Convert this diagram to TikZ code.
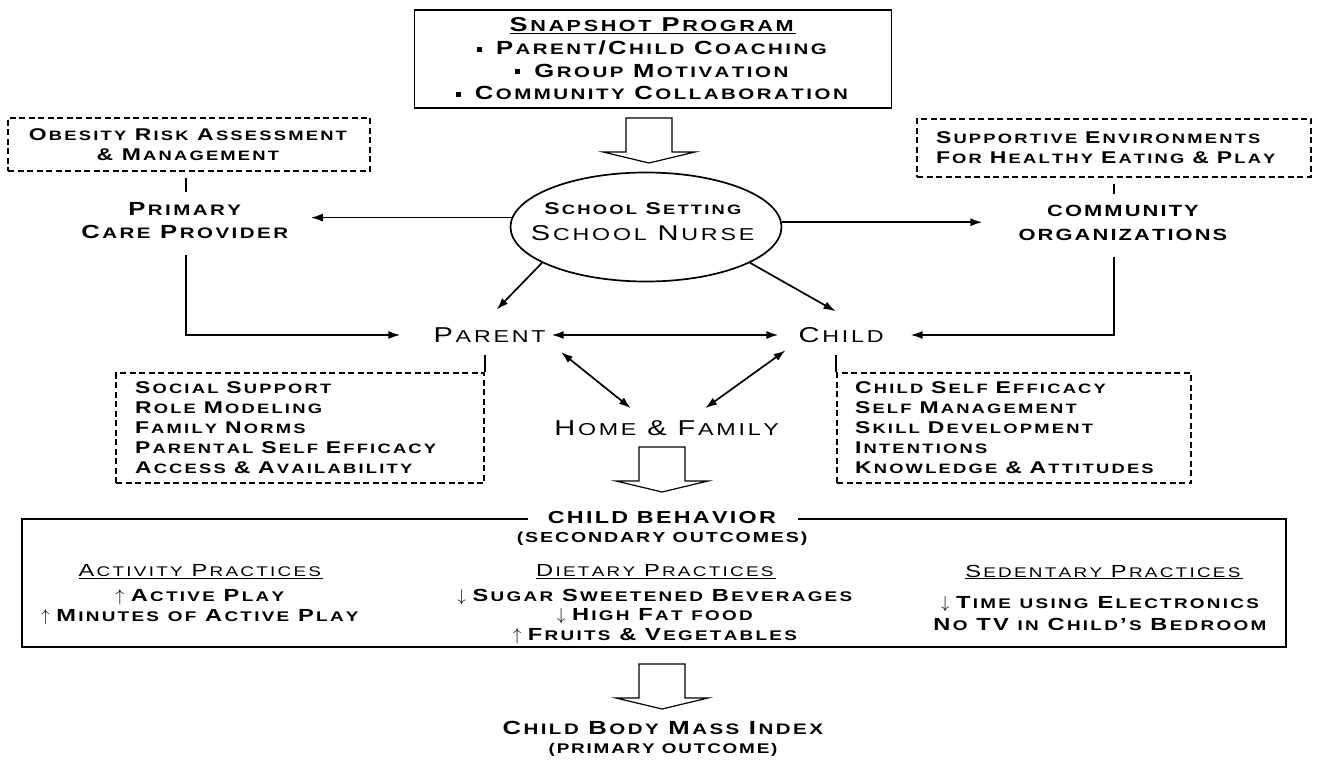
\documentclass[tikz,border=0pt]{standalone}
\usepackage{fontspec}
\setmainfont{Liberation Sans}[FakeStretch=1.35]
\usetikzlibrary{arrows.meta,shapes.geometric}

\newcommand\incr{$\uparrow$}
\newcommand\decr{$\downarrow$}
\newcommand\blt{\rule[3pt]{5pt}{5pt}}

% capitals stay large, small letters become smaller capitals
\makeatletter
\newcommand\fscsmall{\fontsize{\fpeval{0.8*\f@size}}{\f@baselineskip}\selectfont}
\makeatother
\ExplSyntaxOn
\cs_new_protected:Npn \fsc_char:n #1
  {
    \str_if_eq:eeTF { #1 } { \text_uppercase:n { #1 } }
      { #1 }
      { { \fscsmall \text_uppercase:n { #1 } } }
    \kern .13em \scan_stop:
  }
\NewDocumentCommand \fsc { m }
  {
    \seq_set_split:Nnn \l_tmpa_seq { ~ } { #1 }
    \seq_map_indexed_inline:Nn \l_tmpa_seq
      {
        \int_compare:nNnT { ##1 } > { 1 } { \c_space_tl }
        \tl_map_function:nN { ##2 } \fsc_char:n
      }
  }
\ExplSyntaxOff

\tikzset{
  lbl/.style={font=\fontsize{17}{20}\selectfont\bfseries, align=center, inner sep=2pt},
  big/.style={font=\fontsize{21.5}{24}\selectfont, inner ysep=12pt, inner xsep=3pt},
  colhead/.style={font=\fontsize{17.5}{20}\selectfont, inner sep=2pt},
  dashbox/.style={draw, line width=1.8pt, dash pattern=on 6pt off 3.5pt},
  link/.style={line width=1.7pt},
  arr/.style={link, -{Latex[length=12pt,width=8pt]}},
  dblarr/.style={link, {Latex[length=12pt,width=8pt]}-{Latex[length=12pt,width=8pt]}},
  fatarrow/.style={line width=1.2pt, line join=miter},
}

\begin{document}
\begin{tikzpicture}[x=1pt, y=-1pt]
  \useasboundingbox (0,0) rectangle (1319,762);

  % program and school
  \node[draw, link, lbl, font=\fontsize{19}{22.7}\selectfont\bfseries,
        minimum width=477pt, minimum height=98pt] (snap) at (653,59)
    {\underline{\fontsize{20}{22.7}\selectfont\fsc{Snapshot Program}}\\ \blt\ \ \fsc{Parent/Child Coaching}\\
     \blt\ \ \fsc{Group Motivation}\\ \blt\ \ \fsc{Community Collaboration}};
  \node[draw, ellipse, link, minimum width=271pt, minimum height=109pt] (nurse) at (646,227) {};
  \node[font=\fontsize{21.5}{26}\selectfont, align=center] (nursetxt) at (644,222)
    {{\fontsize{17}{18}\selectfont\bfseries\fsc{School Setting}}\\\fsc{School Nurse}};

  % providers
  \node[dashbox, lbl, minimum width=362pt, minimum height=53pt] (obes) at (189,144.5)
    {\fsc{Obesity Risk Assessment}\\\fsc{\& Management}};
  \node[dashbox, lbl, align=left, text width=356pt, inner xsep=19pt, minimum height=58pt] (supp) at (1114,148)
    {\fsc{Supportive Environments}\\\fsc{For Healthy Eating \& Play}};
  \node[lbl, font=\fontsize{19}{23}\selectfont\bfseries] (prim) at (186,221) {\fsc{Primary}\\\fsc{Care Provider}};
  \node[lbl, font=\fontsize{16.2}{23.5}\selectfont\bfseries] (comm) at (1124,223) {\fsc{COMMUNITY}\\\fsc{ORGANIZATIONS}};

  \node[big] (parent) at (491,335) {\fsc{Parent}};
  \node[big] (child) at (842.5,335) {\fsc{Child}};
  \node[big] (home) at (668,428) {\fsc{Home \& Family}};

  \node[dashbox, lbl, align=left, text width=330pt, inner xsep=19pt, minimum height=110pt] (pbox) at (300,428)
    {\fsc{Social Support}\\\fsc{Role Modeling}\\\fsc{Family Norms}\\\fsc{Parental Self Efficacy}\\\fsc{Access \& Availability}};
  \node[dashbox, lbl, align=left, text width=318pt, inner xsep=18pt, minimum height=110pt] (cbox) at (1014,428)
    {\fsc{Child Self Efficacy}\\\fsc{Self Management}\\\fsc{Skill Development}\\\fsc{Intentions}\\\fsc{Knowledge \& Attitudes}};

  % outcomes
  \node[draw, link, minimum width=1264pt, minimum height=128pt] (behav) at (654,583) {};
  \node[lbl, fill=white, inner xsep=20pt, font=\fontsize{17.3}{20}\selectfont\bfseries] (behavtitle) at (663,518) {\fsc{CHILD BEHAVIOR}};
  \node[lbl, font=\fontsize{14.5}{16}\selectfont\bfseries] (second) at (663,539) {\fsc{(SECONDARY OUTCOMES)}};

  \foreach \name/\x/\title in {act/201/Activity Practices, diet/656/Dietary Practices, sed/1104/Sedentary Practices}
    \node[colhead] (\name) at (\x,572) {\underline{\expandafter\fsc\expandafter{\title}}};
  \node[lbl, font=\fontsize{17.5}{20}\selectfont\bfseries] (actlist) at (201,607)
    {\incr\ \fsc{Active Play}\\\incr\ \fsc{Minutes of Active Play}};
  \node[lbl, font=\fontsize{17.5}{19.5}\selectfont\bfseries] (dietlist) at (656,616.5)
    {\decr\ \fsc{Sugar Sweetened Beverages}\\\decr\ \fsc{High Fat food}\\\incr\ \fsc{Fruits \& Vegetables}};
  \node[lbl, font=\fontsize{17.5}{22}\selectfont\bfseries] (sedlist) at (1101,614)
    {\decr\ \fsc{Time using Electronics}\\\fsc{No TV in Child’s Bedroom}};

  \node[lbl, font=\fontsize{19}{20}\selectfont\bfseries] (bmi) at (664,728) {\fsc{Child Body Mass Index}};
  \node[lbl, font=\fontsize{14}{16}\selectfont\bfseries] (primout) at (664,750) {\fsc{(PRIMARY OUTCOME)}};

  % hollow arrows
  \foreach \x/\y in {649/118, 662/447, 662/664}
    \draw[fatarrow] (\x-23,\y) -- (\x-23,\y+34) -- (\x-46,\y+34) -- (\x,\y+45)
                    -- (\x+46,\y+34) -- (\x+23,\y+34) -- (\x+23,\y) -- cycle;

  % connectors
  \draw[arr, shorten >=18pt] (nurse.176) -- (nurse.176 -| prim.east);
  \draw[arr, shorten >=34pt] (nurse.2) -- (nurse.2 -| comm.west);
  \draw[link, shorten <=6pt, shorten >=9pt] (obes.south -| prim.north) -- (prim.north);
  \draw[link, shorten <=6pt, shorten >=9pt] (supp.south) -- (supp.south |- comm.north);
  \draw[arr, shorten <=14pt, shorten >=30pt] (prim.south) |- (parent.west);
  \draw[arr, shorten <=14pt, shorten >=21pt] (supp.south |- comm.south) |- (child.east);
  \draw[arr, shorten >=8pt] (nurse.199) -- (parent.north);
  \draw[arr, shorten >=8pt] (nurse.341) -- (child.north);
  \draw[dblarr, shorten >=17pt] (parent.east) -- (child.west);
  \draw[dblarr, shorten <=12pt] (parent.-9) -- (home.152);
  \draw[dblarr, shorten <=12pt] (child.190) -- (home.28);
  \draw[link] (parent.south -| pbox.east) -- (pbox.north east);
  \draw[link] (child.south -| cbox.west) -- (cbox.north west);
\end{tikzpicture}
\end{document}
